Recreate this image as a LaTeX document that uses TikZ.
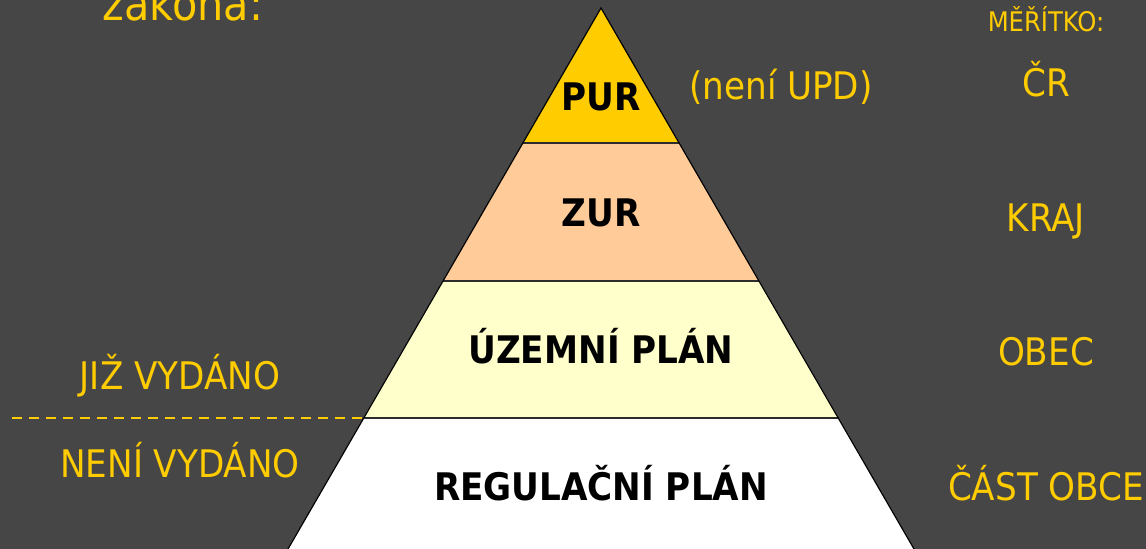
\documentclass[tikz,border=0pt]{standalone}
\usepackage{fontspec}
\setmainfont{DejaVu Sans Condensed}
\usepackage{tikz}
\usetikzlibrary{positioning}

\definecolor{bg}{RGB}{70,70,70}
\definecolor{gold}{RGB}{255,204,0}
\definecolor{peach}{RGB}{255,204,153}
\definecolor{cream}{RGB}{255,255,204}
\definecolor{rim}{RGB}{45,45,45}

\tikzset{
	lbl/.style={text=gold, anchor=base, inner sep=0pt, font=\fontsize{19pt}{22pt}\selectfont},
	tiny/.style={lbl, font=\fontsize{13.5pt}{16pt}\selectfont},
	lvl/.style={text=black, anchor=base, inner sep=0pt, font=\bfseries\fontsize{19pt}{22pt}\selectfont},
	sep/.style={draw=rim, line width=1.2pt},
}

\begin{document}
\begin{tikzpicture}[x=0.5pt,y=-0.5pt]
	\fill[bg] (0,0) rectangle (1146,549);
	\useasboundingbox (0,0) rectangle (1146,549);

	% pyramid corners
	\coordinate (top) at (601,8);
	\coordinate (l1) at (522.9,143); \coordinate (r1) at (679.1,143);
	\coordinate (l2) at (442.8,281); \coordinate (r2) at (759.2,281);
	\coordinate (l3) at (363.5,418); \coordinate (r3) at (838.5,418);
	\coordinate (l4) at (288,549);   \coordinate (r4) at (914,549);

	\fill[gold]  (top) -- (r1) -- (l1) -- cycle;
	\fill[peach] (l1) -- (r1) -- (r2) -- (l2) -- cycle;
	\fill[cream] (l2) -- (r2) -- (r3) -- (l3) -- cycle;
	\fill[white] (l3) -- (r3) -- (r4) -- (l4) -- cycle;
	\path[sep] (l1) -- (r1);
	\path[sep] (l2) -- (r2);
	\path[sep] (l3) -- (r3);
	\draw[black, line width=0.6pt] (l4) -- (top) -- (r4);

	% levels
	\node[lvl] (pur) at (601,111) {PUR};
	\node[lvl] (zur) at (601,227) {ZUR};
	\node[lvl] (up)  at (601,364) {ÚZEMNÍ PLÁN};
	\node[lvl] (rp)  at (601,501) {REGULAČNÍ PLÁN};

	% scale
	\node[tiny] (meritko) at (1046,32)  {MĚŘÍTKO:};
	\node[lbl]  (cr)      at (1046,97)  {ČR};
	\node[lbl]  (kraj)    at (1046,232) {KRAJ};
	\node[lbl]  (obec)    at (1046,366) {OBEC};
	\node[lbl]  (cast)    at (1046,501) {ČÁST OBCE};

	% left side
	\node[lbl, font=\fontsize{23pt}{26pt}\selectfont] (zakona) at (183,21) {zákona:};
	\node[lbl] (upd)   at (781,100) {(není UPD)};
	\node[lbl] (jiz)   at (180,390) {JIŽ VYDÁNO};
	\node[lbl] (neni)  at (180,478) {NENÍ VYDÁNO};

	\coordinate (d0) at (12,418);
	\draw[gold, line width=1.2pt, dash pattern=on 5pt off 3.5pt] (d0) -- (l3);
\end{tikzpicture}
\end{document}
